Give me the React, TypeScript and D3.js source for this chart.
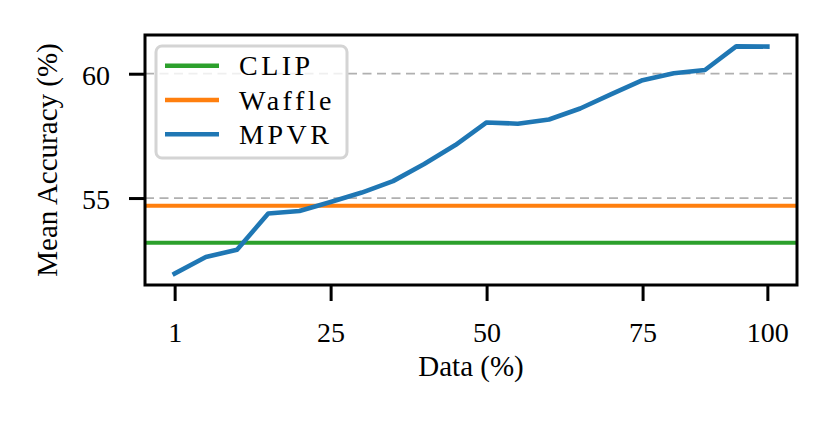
import * as d3 from "d3";
import React, { useRef, useEffect } from "react";

const width = 832;
const height = 429;
const margin = { top: 35, right: 35, bottom: 144, left: 145 };

// data fraction (%) at each evaluated point
const dataPct = [1, 5, 10, 15, 20, 25, 30, 35, 40, 45, 50, 55, 60, 65, 70, 75, 80, 85, 90, 100];
const mpvrAcc = [
  51.96, 52.63, 52.92, 54.38, 54.48, 54.84, 55.22, 55.68, 56.37, 57.13,
  58.04, 57.99, 58.16, 58.6, 59.18, 59.74, 60.02, 60.15, 61.1, 61.09,
];
const clipAcc = 53.2;
const waffleAcc = 54.69;
const xTicks = [1, 25, 50, 75, 100];
const yTicks = [55, 60];
const legendItems = [
  { label: "CLIP", color: "#2ca02c" },
  { label: "Waffle", color: "#ff7f0e" },
  { label: "MPVR", color: "#1f77b4" },
];

const serif = "'Liberation Serif', 'Times New Roman', serif";

export default function App() {
  const ref = useRef(null);

  useEffect(() => {
    const svg = d3.select(ref.current);
    svg.selectAll("*").remove();

    const n = dataPct.length;
    const padX = (n - 1) * 0.05;
    const x = d3
      .scaleLinear()
      .domain([-padX, n - 1 + padX])
      .range([margin.left, width - margin.right]);

    const [lo, hi] = d3.extent(mpvrAcc) as [number, number];
    const padY = (hi - lo) * 0.05;
    const y = d3
      .scaleLinear()
      .domain([lo - padY, hi + padY])
      .range([height - margin.bottom, margin.top]);

    const plotW = width - margin.left - margin.right;

    // grid lines at the y ticks
    svg
      .append("g")
      .selectAll("line")
      .data(yTicks)
      .join("line")
      .attr("x1", margin.left)
      .attr("x2", width - margin.right)
      .attr("y1", (d) => y(d))
      .attr("y2", (d) => y(d))
      .attr("stroke", "#b0b0b0")
      .attr("stroke-width", 1.8)
      .attr("stroke-dasharray", "9 5.5");

    // baselines
    svg
      .append("g")
      .selectAll("line")
      .data([
        { v: clipAcc, c: "#2ca02c" },
        { v: waffleAcc, c: "#ff7f0e" },
      ])
      .join("line")
      .attr("x1", margin.left)
      .attr("x2", margin.left + plotW)
      .attr("y1", (d) => y(d.v))
      .attr("y2", (d) => y(d.v))
      .attr("stroke", (d) => d.c)
      .attr("stroke-width", 4);

    // MPVR curve
    const line = d3
      .line<number>()
      .x((_, i) => x(i))
      .y((d) => y(d));
    svg
      .append("path")
      .datum(mpvrAcc)
      .attr("d", line)
      .attr("fill", "none")
      .attr("stroke", "#1f77b4")
      .attr("stroke-width", 4.6)
      .attr("stroke-linejoin", "round")
      .attr("stroke-linecap", "square");

    // axes
    const xAxis = d3
      .axisBottom(x)
      .tickValues(xTicks.map((t) => dataPct.indexOf(t)))
      .tickFormat((d: any) => String(dataPct[d]))
      .tickSize(16)
      .tickPadding(21);
    const gx = svg
      .append("g")
      .attr("transform", `translate(0,${height - margin.bottom})`)
      .call(xAxis as any);
    gx.select(".domain").remove();

    const yAxis = d3.axisLeft(y).tickValues(yTicks).tickSize(16).tickPadding(19);
    const gy = svg
      .append("g")
      .attr("transform", `translate(${margin.left},0)`)
      .call(yAxis as any);
    gy.select(".domain").remove();
    gy.selectAll("text").attr("dy", "0.38em");

    [gx, gy].forEach((g) => {
      g.selectAll("line").attr("stroke", "black").attr("stroke-width", 3);
      g.selectAll("text")
        .attr("fill", "black")
        .style("font-family", serif)
        .style("font-size", "28px");
    });

    // frame
    svg
      .append("rect")
      .attr("x", margin.left)
      .attr("y", margin.top)
      .attr("width", plotW)
      .attr("height", height - margin.top - margin.bottom)
      .attr("fill", "none")
      .attr("stroke", "black")
      .attr("stroke-width", 3);

    // axis labels
    svg
      .append("text")
      .attr("x", margin.left + plotW / 2)
      .attr("y", 376)
      .attr("text-anchor", "middle")
      .style("font-family", serif)
      .style("font-size", "29px")
      .text("Data (%)");
    svg
      .append("text")
      .attr(
        "transform",
        `translate(57,${(margin.top + height - margin.bottom) / 2}) rotate(-90)`
      )
      .attr("text-anchor", "middle")
      .style("font-family", serif)
      .style("font-size", "29px")
      .text("Mean Accuracy (%)");

    // legend
    const lg = svg.append("g").attr("transform", "translate(156,46)");
    lg.append("rect")
      .attr("width", 191)
      .attr("height", 112)
      .attr("rx", 6)
      .attr("fill", "white")
      .attr("fill-opacity", 0.8)
      .attr("stroke", "#d4d4d4")
      .attr("stroke-width", 3);
    const row = lg
      .selectAll("g.item")
      .data(legendItems)
      .join("g")
      .attr("class", "item")
      .attr("transform", (_, i) => `translate(0,${19.7 + i * 34.3})`);
    row
      .append("line")
      .attr("x1", 9)
      .attr("x2", 63)
      .attr("stroke", (d) => d.color)
      .attr("stroke-width", 4.6);
    row
      .append("text")
      .attr("x", 83)
      .attr("y", 9.5)
      .style("font-family", serif)
      .style("font-size", "28px")
      .style("letter-spacing", "3.5px")
      .text((d) => d.label);
  }, []);

  return (
    <svg
      ref={ref}
      width={width}
      height={height}
      style={{ position: "absolute", left: 0, top: 0, background: "white" }}
    />
  );
}
